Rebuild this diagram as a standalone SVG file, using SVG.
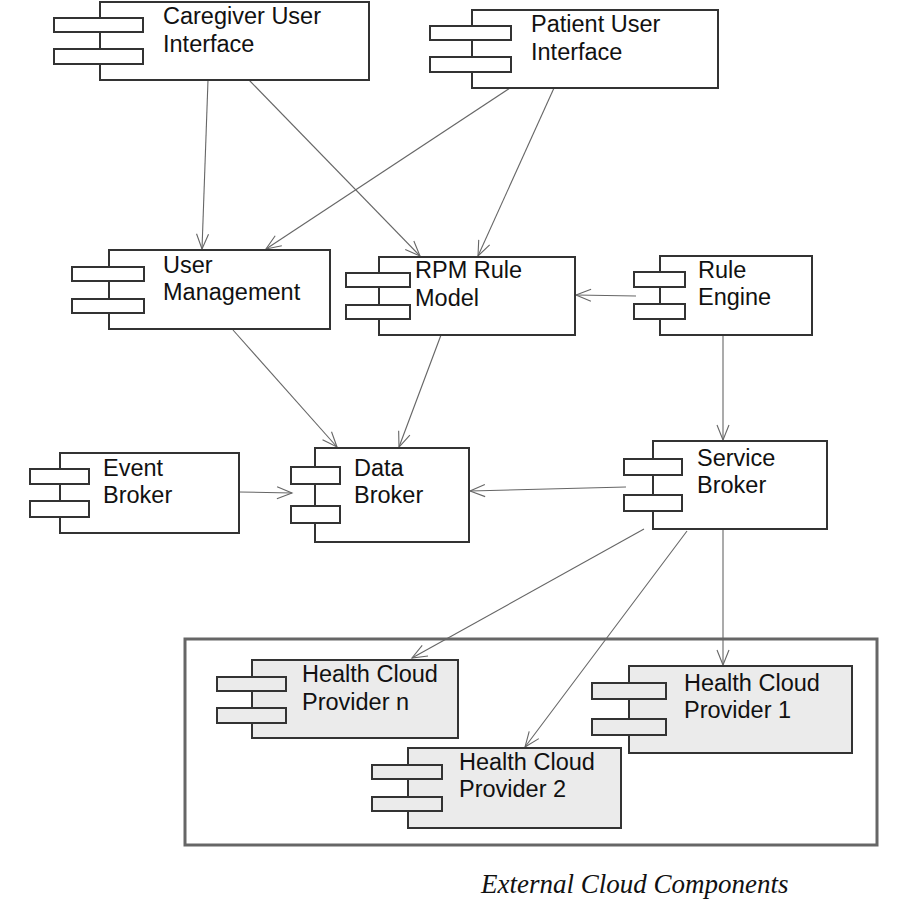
<svg xmlns="http://www.w3.org/2000/svg" width="900" height="900" viewBox="0 0 900 900">
<style>
  .body { fill: #ffffff; stroke: #333333; stroke-width: 2; }
  .ext .body, .ext .port { fill: #ebebeb; }
  .port { fill: #ffffff; stroke: #333333; stroke-width: 2; }
  .lbl { font-family: "Liberation Sans", Arial, sans-serif; font-size: 23.5px; fill: #111111; }
  .conn line { stroke: #666666; stroke-width: 1.1; fill: none; marker-end: url(#open); }
  .cap { font-family: "Liberation Serif", "Times New Roman", serif; font-style: italic; font-size: 27px; fill: #111111; }
</style>
<defs>
  <marker id="open" markerUnits="userSpaceOnUse" viewBox="-16 -8 18 16" refX="0" refY="0" markerWidth="18" markerHeight="16" orient="auto">
    <path d="M-15,-6 L0,0 L-15,6" fill="none" stroke="#666666" stroke-width="1.1"/>
  </marker>
</defs>
<rect width="900" height="900" fill="#ffffff"/>

<!-- External cloud container -->
<g id="external-cloud">
  <rect x="185" y="639" width="692" height="206" fill="#ffffff" stroke="#666666" stroke-width="3"/>
</g>

<g class="conn" id="connectors">
  <line x1="208" y1="80" x2="202" y2="249"/>
  <line x1="249" y1="80" x2="420" y2="256"/>
  <line x1="510" y1="88" x2="266" y2="249"/>
  <line x1="554" y1="88" x2="478" y2="256"/>
  <line x1="636" y1="296" x2="576" y2="295"/>
  <line x1="233" y1="330" x2="337" y2="447"/>
  <line x1="441" y1="335" x2="399" y2="447"/>
  <line x1="723" y1="336" x2="723" y2="440"/>
  <line x1="239" y1="492" x2="292" y2="493"/>
  <line x1="626" y1="487" x2="470" y2="491"/>
  <line x1="644" y1="529" x2="412" y2="658"/>
  <line x1="687" y1="531" x2="525" y2="747"/>
  <line x1="723" y1="530" x2="723" y2="665"/>
</g>

<g id="caregiver-ui">
  <rect class="body" x="100" y="2" width="269" height="78"/>
  <rect class="port" x="54" y="18" width="89" height="14"/>
  <rect class="port" x="54" y="49" width="89" height="15"/>
  <text class="lbl" x="163" y="24">Caregiver User</text>
  <text class="lbl" x="163" y="52">Interface</text>
</g>

<g id="patient-ui">
  <rect class="body" x="472" y="10" width="246" height="78"/>
  <rect class="port" x="430" y="26" width="81" height="14"/>
  <rect class="port" x="430" y="57" width="81" height="15"/>
  <text class="lbl" x="531" y="32">Patient User</text>
  <text class="lbl" x="531" y="60">Interface</text>
</g>

<g id="user-management">
  <rect class="body" x="109" y="250" width="221" height="79"/>
  <rect class="port" x="72" y="267" width="72" height="14"/>
  <rect class="port" x="72" y="299" width="72" height="14"/>
  <text class="lbl" x="163" y="273">User</text>
  <text class="lbl" x="163" y="300">Management</text>
</g>

<g id="rpm-rule-model">
  <rect class="body" x="379" y="257" width="196" height="78"/>
  <rect class="port" x="346" y="273" width="64" height="14"/>
  <rect class="port" x="346" y="305" width="64" height="14"/>
  <text class="lbl" x="415" y="278">RPM Rule</text>
  <text class="lbl" x="415" y="306">Model</text>
</g>

<g id="rule-engine">
  <rect class="body" x="660" y="256" width="152" height="79"/>
  <rect class="port" x="634" y="272" width="51" height="15"/>
  <rect class="port" x="634" y="304" width="51" height="15"/>
  <text class="lbl" x="698" y="278">Rule</text>
  <text class="lbl" x="698" y="305">Engine</text>
</g>

<g id="event-broker">
  <rect class="body" x="60" y="453" width="179" height="80"/>
  <rect class="port" x="30" y="469" width="59" height="15"/>
  <rect class="port" x="30" y="501" width="59" height="16"/>
  <text class="lbl" x="103" y="476">Event</text>
  <text class="lbl" x="103" y="503">Broker</text>
</g>

<g id="data-broker">
  <rect class="body" x="315" y="448" width="154" height="94"/>
  <rect class="port" x="291" y="467" width="49" height="17"/>
  <rect class="port" x="291" y="506" width="49" height="17"/>
  <text class="lbl" x="354" y="476">Data</text>
  <text class="lbl" x="354" y="503">Broker</text>
</g>

<g id="service-broker">
  <rect class="body" x="653" y="441" width="174" height="88"/>
  <rect class="port" x="624" y="459" width="58" height="16"/>
  <rect class="port" x="624" y="495" width="58" height="16"/>
  <text class="lbl" x="697" y="466">Service</text>
  <text class="lbl" x="697" y="493">Broker</text>
</g>

<g id="health-cloud-provider-n" class="ext">
  <rect class="body" x="252" y="660" width="206" height="78"/>
  <rect class="port" x="217" y="677" width="69" height="14"/>
  <rect class="port" x="217" y="708" width="69" height="15"/>
  <text class="lbl" x="302" y="682">Health Cloud</text>
  <text class="lbl" x="302" y="710">Provider n</text>
</g>

<g id="health-cloud-provider-1" class="ext">
  <rect class="body" x="629" y="666" width="223" height="87"/>
  <rect class="port" x="592" y="683" width="74" height="16"/>
  <rect class="port" x="592" y="719" width="74" height="16"/>
  <text class="lbl" x="684" y="691">Health Cloud</text>
  <text class="lbl" x="684" y="718">Provider 1</text>
</g>

<g id="health-cloud-provider-2" class="ext">
  <rect class="body" x="408" y="748" width="213" height="80"/>
  <rect class="port" x="372" y="765" width="70" height="14"/>
  <rect class="port" x="372" y="797" width="70" height="14"/>
  <text class="lbl" x="459" y="770">Health Cloud</text>
  <text class="lbl" x="459" y="797">Provider 2</text>
</g>

<text class="cap" x="481" y="893">External Cloud Components</text>
</svg>
